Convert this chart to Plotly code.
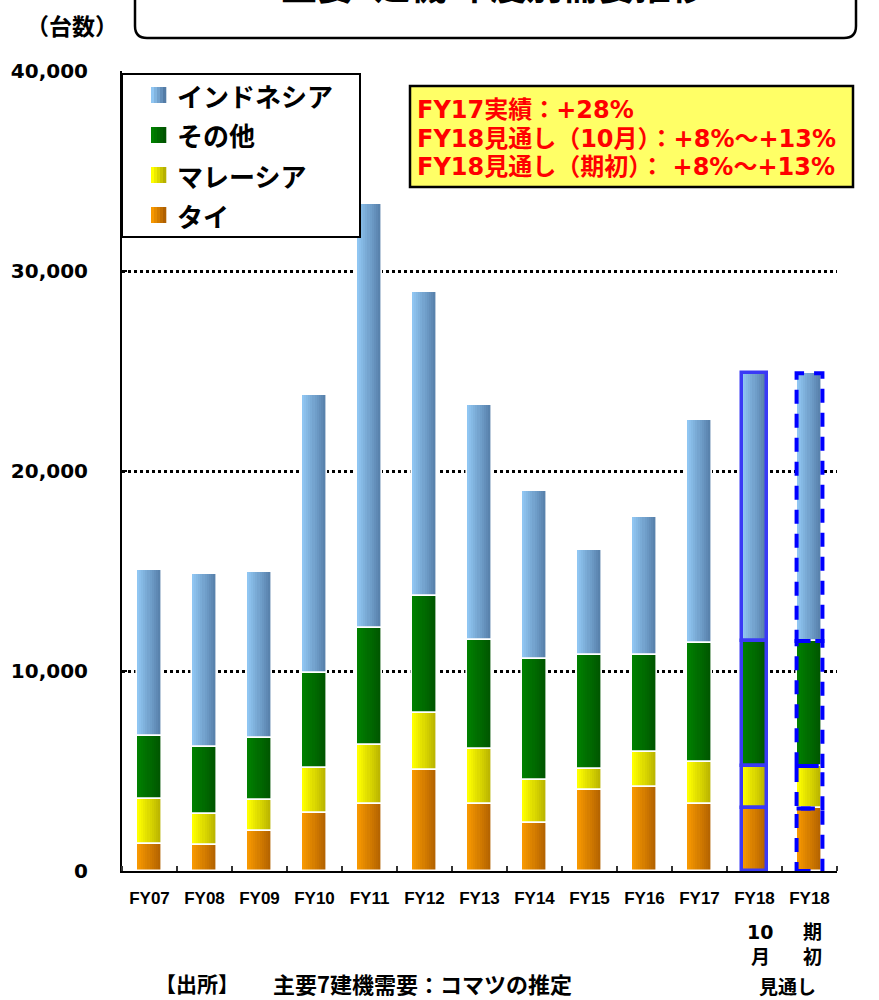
import numpy as np
import plotly.graph_objects as go

# ---- data -------------------------------------------------------------
labels = ["FY07", "FY08", "FY09", "FY10", "FY11", "FY12", "FY13",
          "FY14", "FY15", "FY16", "FY17", "FY18", "FY18"]
thai = [1340, 1290, 2000, 2890, 3350, 5050, 3340, 2390, 4040, 4220, 3350, 3130, 3130]
malaysia = [2250, 1550, 1530, 2280, 2940, 2870, 2780, 2160, 1080, 1750, 2090, 2120, 2120]
other = [3160, 3350, 3100, 4720, 5880, 5820, 5450, 6040, 5700, 4850, 5950, 6250, 6250]
indonesia = [8300, 8650, 8300, 13910, 21170, 15210, 11730, 8410, 5220, 6870, 11160, 13390, 13390]

y_ticks = [0, 10000, 20000, 30000, 40000]

# ---- page geometry (pixels) ------------------------------------------
FIG_W, FIG_H = 879, 1000
M_L, M_R, M_T, M_B = 122, 42, 71, 129
PW, PH = FIG_W - M_L - M_R, FIG_H - M_T - M_B


def px(x):
    return (x - M_L) / PW


def py(y):
    return (FIG_H - M_B - y) / PH


JP = "Noto Sans CJK JP"
LATIN_JP = "DejaVu Sans, Noto Sans CJK JP"

# series: name, values, left colour, right colour (horizontal shading)
series = [
    ("タイ", thai, (247, 152, 0), (176, 96, 0)),
    ("マレーシア", malaysia, (255, 255, 0), (182, 176, 0)),
    ("その他", other, (0, 128, 0), (0, 84, 0)),
    ("インドネシア", indonesia, (144, 198, 242), (84, 124, 166)),
]

xs = np.arange(len(labels))
W = 0.47          # bar width in category units
N = 12            # shading steps per bar


def mix(c1, c2, t):
    return "rgb(%d,%d,%d)" % tuple(round(a + (b - a) * t) for a, b in zip(c1, c2))


fig = go.Figure()

bases = []
bottom = np.zeros(len(xs))
for name, vals, cl, cr in series:
    v = np.array(vals, dtype=float)
    bases.append(bottom.copy())
    for k in range(N):
        fig.add_bar(
            x=xs, y=v, base=bottom.copy(),
            offset=-W / 2 + k * W / N, width=W - k * W / N,
            marker=dict(color=mix(cl, cr, k / (N - 1)), line=dict(width=0)),
            showlegend=False, hoverinfo="skip",
        )
    bottom = bottom + v

# segment outlines: white separators, solid blue frame for the October outlook
line_cols = ["white"] * len(xs)
line_ws = [1.6] * len(xs)
line_cols[11] = "#3a3af5"
line_ws[11] = 3.5
for (name, vals, cl, cr), b in zip(series, bases):
    fig.add_bar(
        x=xs, y=vals, base=b, offset=-W / 2, width=W,
        marker=dict(color="rgba(0,0,0,0)", line=dict(color=line_cols, width=line_ws)),
        showlegend=False, hoverinfo="skip",
    )

# dashed blue frame for the initial outlook bar
shapes = []
for (name, vals, cl, cr), b in zip(series, bases):
    i = 12
    shapes.append(dict(
        type="rect", xref="x", yref="y",
        x0=xs[i] - W / 2, x1=xs[i] + W / 2, y0=b[i], y1=b[i] + vals[i],
        line=dict(color="#0000ff", width=4, dash="14px,10px"), layer="above",
    ))

# title frame (rounded, running off the top of the page)
L, R, B, T, r = 135, 856, 38, -20, 12
path = (f"M {px(L)},{py(T)} L {px(L)},{py(B - r)} Q {px(L)},{py(B)} {px(L + r)},{py(B)} "
        f"L {px(R - r)},{py(B)} Q {px(R)},{py(B)} {px(R)},{py(B - r)} L {px(R)},{py(T)}")
shapes.append(dict(type="path", xref="paper", yref="paper", path=path,
                   line=dict(color="black", width=2.5)))

# legend frame and swatches
shapes.append(dict(type="rect", xref="paper", yref="paper",
                   x0=px(122), x1=px(360), y0=py(237), y1=py(74),
                   line=dict(color="black", width=2), fillcolor="white", layer="above"))
legend_rows = [(series[3], 95), (series[2], 135), (series[1], 175), (series[0], 215)]
annotations = []
for (name, vals, cl, cr), yc in legend_rows:
    steps = 5
    for k in range(steps):
        x0 = 151 + k * 15 / steps
        shapes.append(dict(type="rect", xref="paper", yref="paper",
                           x0=px(x0), x1=px(x0 + 15 / steps + 0.3),
                           y0=py(yc + 8), y1=py(yc - 8),
                           line=dict(width=0), fillcolor=mix(cl, cr, k / (steps - 1)),
                           layer="above"))
    annotations.append(dict(xref="paper", yref="paper", x=px(175), y=py(yc),
                             xanchor="left", yanchor="middle", showarrow=False,
                             text=name, font=dict(family=JP, size=26, color="black", weight="bold")))

# yellow note box
shapes.append(dict(type="rect", xref="paper", yref="paper",
                   x0=px(410), x1=px(853), y0=py(187), y1=py(86),
                   line=dict(color="black", width=2.5), fillcolor="#ffff66", layer="above"))
note_lines = ["FY17実績：+28%",
              "FY18見通し（10月）：+8%～+13%",
              "FY18見通し（期初）： +8%～+13%"]
for txt, yc in zip(note_lines, [110, 139, 167]):
    annotations.append(dict(xref="paper", yref="paper", x=px(415), y=py(yc),
                            xanchor="left", yanchor="middle", showarrow=False, text=txt,
                            font=dict(family=LATIN_JP, size=24, color="#ff0000", weight="bold")))

# title (partly above the page), unit and source
annotations += [
    dict(xref="paper", yref="paper", x=px(493), y=py(12), xanchor="center", yanchor="bottom",
         showarrow=False, text="主要7建機 年度別需要推移",
         font=dict(family=JP, size=36, color="black", weight="bold")),
    dict(xref="paper", yref="paper", x=px(72), y=py(25), xanchor="center", yanchor="middle",
         showarrow=False, text="（台数）",
         font=dict(family=JP, size=23, color="black", weight="bold")),
    dict(xref="paper", yref="paper", x=px(153), y=py(983), xanchor="left", yanchor="middle",
         showarrow=False, text="【出所】",
         font=dict(family=JP, size=21, color="black", weight="bold")),
    dict(xref="paper", yref="paper", x=px(271), y=py(983), xanchor="left", yanchor="middle",
         showarrow=False, text="主要7建機需要：コマツの推定",
         font=dict(family=JP, size=22, color="black", weight="bold")),
]
# outlook sub-labels under the two FY18 bars
for txt, xc, yc in [("10", 760, 932), ("月", 760, 957), ("期", 812, 932),
                    ("初", 812, 957), ("見通し", 787, 987)]:
    annotations.append(dict(xref="paper", yref="paper", x=px(xc), y=py(yc),
                            xanchor="center", yanchor="middle", showarrow=False, text=txt,
                            font=dict(family=LATIN_JP, size=19, color="black", weight="bold")))

fig.update_layout(
    width=FIG_W, height=FIG_H,
    margin=dict(l=M_L, r=M_R, t=M_T, b=M_B, pad=0),
    paper_bgcolor="white", plot_bgcolor="white",
    barmode="overlay", bargap=0,
    showlegend=False,
    shapes=shapes, annotations=annotations,
    xaxis=dict(
        range=[-0.5, len(xs) - 0.5], tickmode="array", tickvals=xs, ticktext=labels,
        ticks="", showgrid=False, zeroline=False,
        showline=True, linecolor="black", linewidth=2,
        tickfont=dict(family="Liberation Sans", size=17, color="black", weight="bold"),
        ticklabelstandoff=11,
        minor=dict(tickvals=[i - 0.5 for i in range(len(xs) + 1)], ticks="inside",
                   ticklen=5, tickwidth=1.5, tickcolor="#333333", showgrid=False),
    ),
    yaxis=dict(
        range=[0, 40000], tickmode="array", tickvals=y_ticks, tickformat=",d",
        showgrid=True, gridcolor="black", gridwidth=2.5, griddash="dot",
        zeroline=False, showline=True, linecolor="black", linewidth=2,
        ticks="inside", ticklen=5, tickwidth=1.5, tickcolor="black",
        tickfont=dict(family="DejaVu Sans", size=20, color="black", weight="bold"),
        ticklabelstandoff=28,
    ),
)

fig.write_html("out.html")
